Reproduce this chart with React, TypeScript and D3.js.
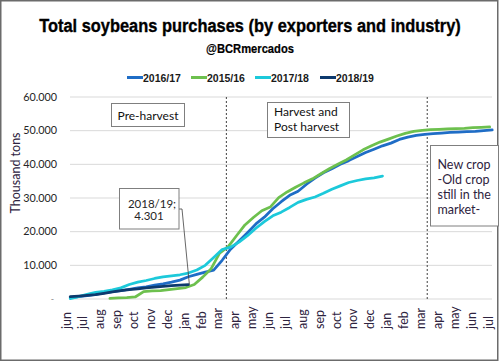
import React, { useMemo } from 'react';
import * as d3 from 'd3';

// month labels along the x axis (two marketing years, jun -> jul)
const months = [
  'jun', 'jul', 'aug', 'sep', 'oct', 'nov', 'dec', 'jan', 'feb', 'mar', 'apr', 'may',
  'jun', 'jul', 'aug', 'sep', 'oct', 'nov', 'dec', 'jan', 'feb', 'mar', 'apr', 'may',
  'jun', 'jul',
];
const yTicks = [10000, 20000, 30000, 40000, 50000, 60000];
const phaseLines = [9.5, 21.4]; // month offsets of the dotted separators

// values every half month, in thousand tons; start = month offset of first value
const STEP = 0.5;
const s1617Start = 0.25;
const s1617 = [
  400, 700, 1000, 1400, 1800, 2200, 2500, 2900, 3300, 3600, 4100, 4500, 5000, 5600,
  6600, 7300, 8000, 8600, 11500, 14800, 17200, 19700, 22300, 24300, 26800, 28900,
  30800, 32000, 34100, 35900, 37500, 38700, 40000, 41100, 42300, 43500, 44500, 45500,
  46300, 47400, 48100, 48600, 48900, 49100, 49300, 49500, 49600, 49700, 49800, 50000, 50200,
];
const s1516Start = 2.6;
const s1516 = [
  200, 300, 400, 600, 2200, 2400, 2500, 2800, 3100, 3400, 4300, 6500, 9000, 13600,
  15500, 18800, 22000, 24200, 26200, 27300, 30100, 31800, 33200, 34500, 35700, 37200,
  38700, 40000, 41300, 42800, 44300, 45500, 46600, 47500, 48400, 49200, 49800, 50100,
  50300, 50400, 50500, 50600, 50700, 50900, 51000, 51100,
];
const s1718Start = 0.25;
const s1718 = [
  100, 700, 1400, 2000, 2300, 2700, 3300, 4300, 5000, 5500, 6100, 6600, 6900, 7200,
  7700, 8600, 10000, 12300, 14700, 15400, 16900, 18800, 21000, 23000, 24700, 25800,
  27200, 28700, 29600, 30300, 31400, 32600, 33600, 34600, 35200, 35700, 36000, 36500,
];
const s1819Start = 0.25;
const s1819 = [
  700, 850, 1050, 1300, 1700, 2100, 2500, 2800, 3000, 3300, 3500, 3750, 3950, 4100, 4301,
];

const series = [
  { name: '2016/17', color: '#1F6DC6', start: s1617Start, values: s1617 },
  { name: '2015/16', color: '#6DC04E', start: s1516Start, values: s1516 },
  { name: '2017/18', color: '#1CC9DA', start: s1718Start, values: s1718 },
  { name: '2018/19', color: '#0D3A6E', start: s1819Start, values: s1819 },
];

const W = 500;
const H = 362;
const plot = { left: 70, right: 492, top: 97, bottom: 299 };
const FONT = 'Lato, "Open Sans", sans-serif';
const SANS = '"Liberation Sans", Arial, sans-serif';
const TEXT = '#2E2340';
const TITLE = 'Total soybeans purchases (by exporters and industry)';
const SUBTITLE = '@BCRmercados';

// horizontal squeeze factor so a regular bold face looks like the narrow one
function squeeze(text: string, font: string, target: number) {
  const ctx = document.createElement('canvas').getContext('2d');
  if (!ctx) return 0.83;
  ctx.font = font;
  const w = ctx.measureText(text).width;
  return w > 0 ? target / w : 0.83;
}

export default function App() {
  const x = d3.scaleLinear().domain([0, 25]).range([66, 488]);
  const y = d3.scaleLinear().domain([0, 60000]).range([plot.bottom, plot.top]);
  const line = d3.line<[number, number]>()
    .x(d => x(d[0]))
    .y(d => y(d[1]));

  const fmt = (v: number) => d3.format(',')(v).replace(/,/g, '.');

  const titleK = useMemo(() => squeeze(TITLE, 'bold 18.5px "Liberation Sans"', 422), []);
  const subK = useMemo(() => squeeze(SUBTITLE, 'bold 13px "Liberation Sans"', 88), []);

  const last1819 = s1819[s1819.length - 1];
  const lastX = x(s1819Start + (s1819.length - 1) * STEP);
  const lastY = y(last1819);

  const legendX = [127, 191, 255, 320];

  return (
    <svg width={W} height={H} style={{ display: 'block' }}>
      <style>{'body{margin:0}'}</style>
      <rect x={0} y={0} width={W} height={H} fill="#fff" />
      <rect x={0.75} y={0.75} width={497} height={359.5} fill="none" stroke="#6b6b6b" strokeWidth={1.5} />

      {/* title */}
      <text transform={`translate(250,32) scale(${titleK},1)`} textAnchor="middle" fontFamily={SANS}
        fontWeight="bold" fontSize={18.5} fill="#000" stroke="#000" strokeWidth={0.35}>
        {TITLE}
      </text>
      <text transform={`translate(250,53) scale(${subK},1)`} textAnchor="middle" fontFamily={SANS}
        fontWeight="bold" fontSize={13} fill="#000" stroke="#000" strokeWidth={0.2}>
        {SUBTITLE}
      </text>

      {/* legend */}
      {series.map((s, i) => (
        <g key={s.name}>
          <line x1={legendX[i]} x2={legendX[i] + 16} y1={77.5} y2={77.5} stroke={s.color} strokeWidth={3} />
          <text x={legendX[i] + 16} y={81.5} fontFamily={SANS}
            fontWeight="bold" fontSize={10.5} fill="#1a1a1a">{s.name}</text>
        </g>
      ))}

      {/* grid + y ticks */}
      {yTicks.map(t => (
        <g key={t}>
          <line x1={plot.left} x2={plot.right} y1={y(t)} y2={y(t)} stroke="#D9D9D9" strokeWidth={1} />
          <text x={57} y={y(t) + 3.8} textAnchor="end" fontFamily={FONT} fontSize={10.8} fill="#262626">
            {fmt(t)}
          </text>
        </g>
      ))}
      <text x={54} y={302} textAnchor="end" fontFamily={FONT} fontSize={9} fill="#8a8a8a">-</text>
      <line x1={plot.left} x2={plot.right} y1={plot.bottom} y2={plot.bottom} stroke="#D9D9D9" strokeWidth={1} />

      {/* y title */}
      <text transform={`translate(20,173) rotate(-90)`} textAnchor="middle" fontFamily={FONT}
        fontSize={12.5} fill={TEXT}>Thousand tons</text>

      {/* x labels */}
      {months.map((m, i) => (
        <text key={i} transform={`translate(${x(i)},329) rotate(-90)`} textAnchor="start"
          dominantBaseline="central" fontFamily={FONT} fontSize={12.5} fill={TEXT}>{m}</text>
      ))}

      {/* phase separators */}
      {phaseLines.map(p => (
        <line key={p} x1={x(p)} x2={x(p)} y1={plot.top} y2={plot.bottom}
          stroke="#404040" strokeWidth={1} strokeDasharray="2,2" />
      ))}

      {/* series */}
      {series.map(s => (
        <path key={s.name}
          d={line(s.values.map((v, i) => [s.start + i * STEP, v] as [number, number])) || ''}
          fill="none" stroke={s.color} strokeWidth={2.75} strokeLinejoin="round" strokeLinecap="round" />
      ))}

      {/* phase boxes */}
      <rect x={111.5} y={103.5} width={73} height={23} fill="#fff" stroke="#7F7F7F" />
      <text x={148} y={119.5} textAnchor="middle" fontFamily={FONT} fontSize={12} fill="#111">Pre-harvest</text>

      <rect x={267.5} y={102.5} width={82} height={35} fill="#fff" stroke="#7F7F7F" />
      <text fontFamily={FONT} fontSize={12} fill="#111">
        <tspan x={274} y={115.5}>Harvest and</tspan>
        <tspan x={274} y={130.5}>Post harvest</tspan>
      </text>

      <rect x={430.5} y={145.5} width={68} height={80.5} fill="#fff" stroke="#7F7F7F" />
      <text fontFamily={FONT} fontSize={12.5} fill={TEXT}>
        <tspan x={437.5} y={169}>New crop</tspan>
        <tspan x={437.5} y={184}>-Old crop</tspan>
        <tspan x={437.5} y={198.5}>still in the</tspan>
        <tspan x={437.5} y={213.5}>market-</tspan>
      </text>

      {/* data label for last 2018/19 point */}
      <polyline points={`179,209 182,209 ${lastX + 1},${lastY}`} fill="none" stroke="#404040" strokeWidth={0.8} />
      <rect x={119.5} y={188.5} width={59.5} height={40.5} fill="#fff" stroke="#7F7F7F" />
      <text fontFamily={FONT} fontSize={11.5} fill="#262626" textAnchor="middle">
        <tspan x={152} y={207.5}>2018/19;</tspan>
        <tspan x={149} y={219.5}>{fmt(last1819)}</tspan>
      </text>
    </svg>
  );
}
